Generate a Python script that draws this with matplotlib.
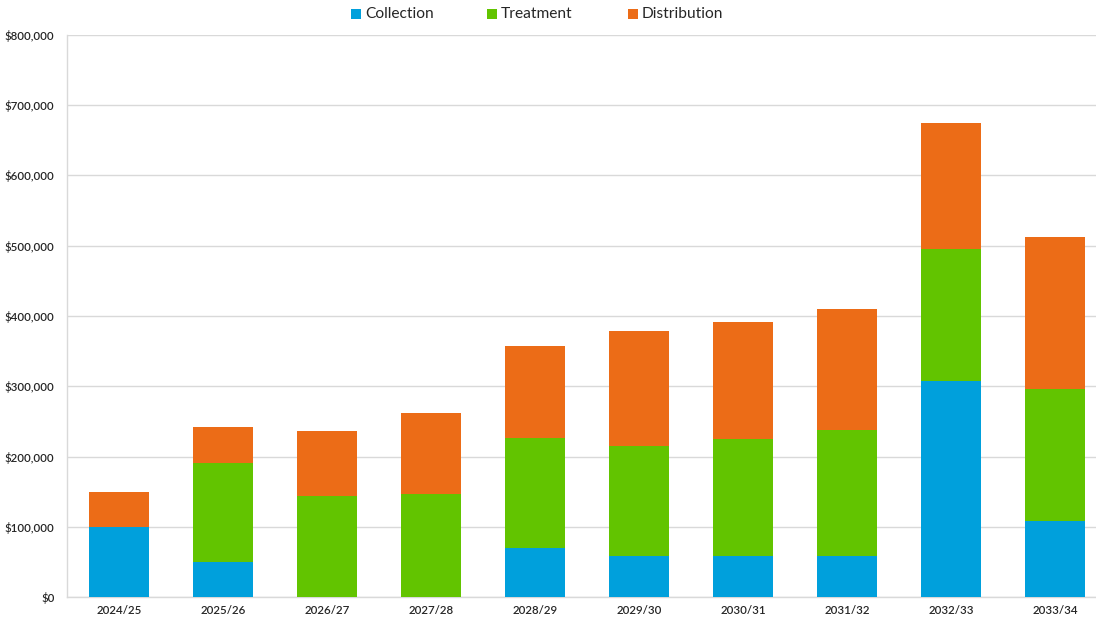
import matplotlib
matplotlib.use("Agg")
import matplotlib.pyplot as plt
from matplotlib.ticker import FuncFormatter, MultipleLocator
from matplotlib.patches import Rectangle
import numpy as np

years = ["2024/25", "2025/26", "2026/27", "2027/28", "2028/29",
         "2029/30", "2030/31", "2031/32", "2032/33", "2033/34"]
collection = [100000, 50000, 0, 0, 70000, 58000, 58000, 58000, 308000, 108000]
treatment = [0, 141000, 144000, 147000, 157000, 157000, 166500, 180000, 187000, 188000]
distribution = [50000, 51000, 93000, 115500, 130000, 163000, 167000, 172000, 180000, 216500]

series_names = ["Collection", "Treatment", "Distribution"]
colors = ["#00a0dc", "#62c400", "#ec6c17"]

plt.rcParams["font.family"] = ["Lato", "DejaVu Sans"]

W, H = 1096, 623
fig = plt.figure(figsize=(W / 100, H / 100), dpi=100)
ax = fig.add_axes([67 / W, 26 / H, 1029 / W, 562 / H])

x = np.arange(len(years))
width = 0.571
bottom = np.zeros(len(years))
for vals, col in zip([collection, treatment, distribution], colors):
    v = np.array(vals, dtype=float)
    ax.bar(x, v, width, bottom=bottom, color=col, edgecolor="none", zorder=3)
    bottom += v

ax.set_ylim(0, 800000)
ax.set_xlim(-0.5, 9.5 - 11 / 104)
ax.yaxis.set_major_locator(MultipleLocator(100000))
ax.yaxis.set_major_formatter(FuncFormatter(lambda v, p: f"${v:,.0f}"))
ax.set_xticks(x)
ax.set_xticklabels(years)

ax.grid(axis="y", color="#d9d9d9", linewidth=1.0, zorder=0)
for s in ["top", "right"]:
    ax.spines[s].set_visible(False)
for s in ["left", "bottom"]:
    ax.spines[s].set_color("#d9d9d9")
    ax.spines[s].set_linewidth(1.0)
ax.tick_params(axis="both", length=0, labelsize=8.3, colors="#262626")
ax.tick_params(axis="y", pad=9)
ax.tick_params(axis="x", pad=6)
for lab in ax.get_xticklabels() + ax.get_yticklabels():
    lab.set_fontweight("semibold")

# Legend row across the top: colour square followed by its series name
legend_x = [351, 487, 628]
legend_y = 14
for name, col, lx in zip(series_names, colors, legend_x):
    fig.patches.append(Rectangle((lx / W, 1 - (legend_y + 5) / H), 10 / W, 10 / H,
                                 transform=fig.transFigure, facecolor=col,
                                 edgecolor="none"))
    fig.text((lx + 14) / W, 1 - legend_y / H, name, fontsize=11.2,
             color="#262626", va="center", ha="left")

fig.savefig("out.png", dpi=100, facecolor="white")
